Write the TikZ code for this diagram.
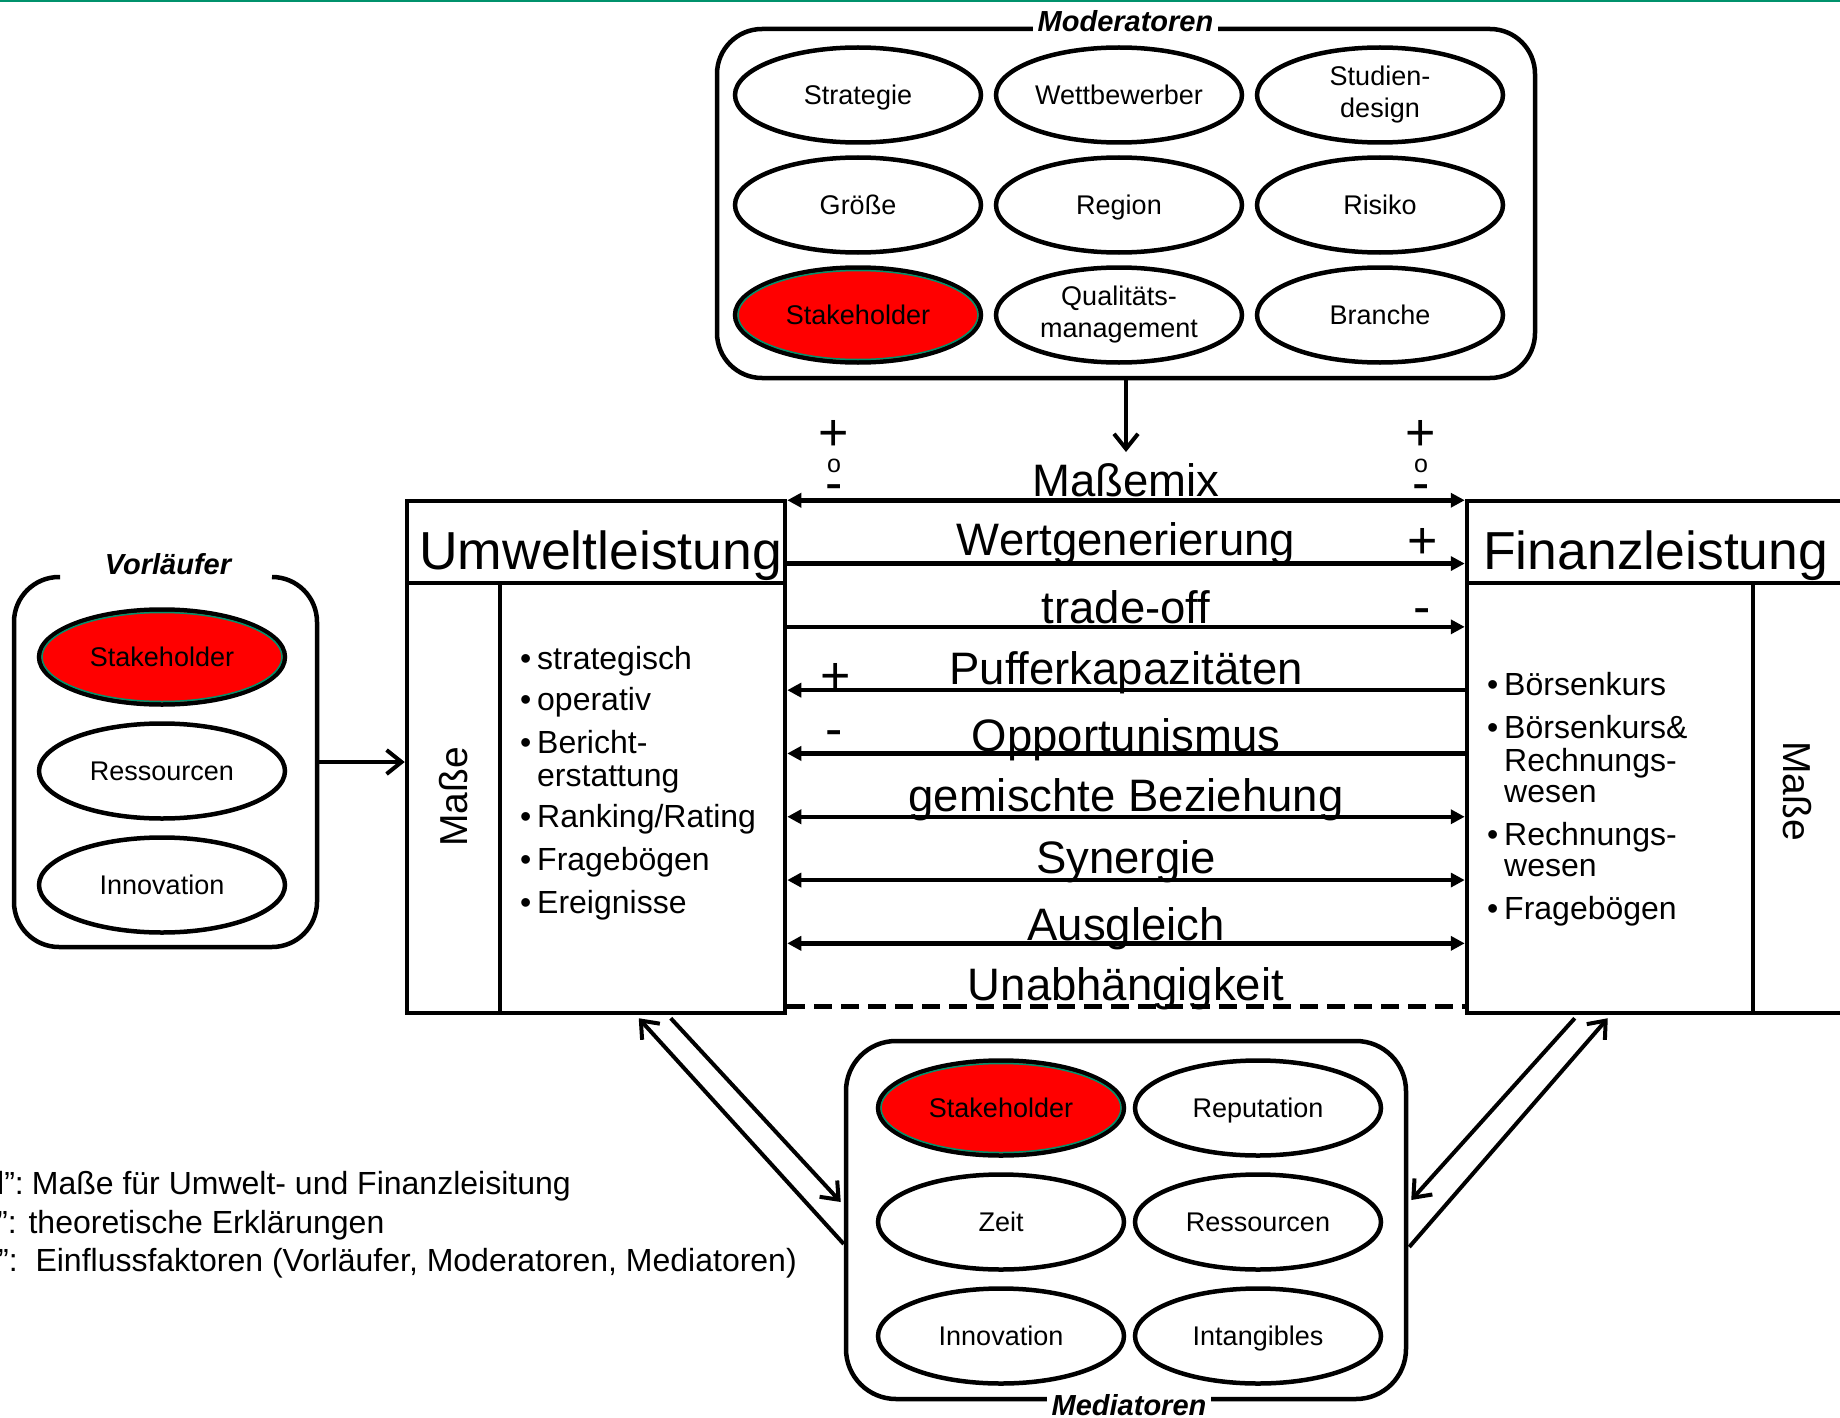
\documentclass[tikz,border=0pt]{standalone}
\usepackage{fontspec}
\setmainfont{Liberation Sans}
\usetikzlibrary{shapes.geometric,arrows.meta}
\definecolor{tealgreen}{RGB}{0,146,108}
\newcommand\setfs[2]{\fontsize{#1}{#2}\selectfont}
\tikzset{
  ell/.style={ellipse, draw, line width=4.5pt, minimum width=246pt, minimum height=95pt,
    inner sep=0pt, font=\setfs{27}{32}, align=center},
  ellone/.style={ell, text height=19.4pt, text depth=0pt},
  stk/.style={ellone, fill=red},
  grp/.style={draw, line width=4.5pt, inner sep=0pt},
  glab/.style={font=\setfs{29}{34}\bfseries\itshape, inner xsep=5pt, inner ysep=2pt},
  hl/.style={line width=4.5pt},
  lab/.style={font=\setfs{45.5}{54}, inner sep=0pt, anchor=base, pos=.5},
  sgn/.style={font=\setfs{52}{60}, inner sep=0pt, anchor=base},
  smallo/.style={font=\setfs{25}{30}, inner sep=0pt, anchor=base},
  bul/.style={font=\setfs{32}{38}, inner sep=0pt, anchor=base west},
  ttl/.style={font=\setfs{53.5}{62}, inner sep=0pt, anchor=base west},
  masse/.style={font=\setfs{39}{46}, inner sep=0pt},
  barb/.style={line width=4pt, -{Straight Barb[length=15pt 0,width=24pt 0]}},
  foot/.style={font=\setfs{32}{38}, inner sep=0pt, anchor=base west},
}
\begin{document}
\begin{tikzpicture}[x=1pt,y=-1pt,>={Triangle[length=14pt 0,width=14pt 0]}]
\useasboundingbox (0,0) rectangle (1840,1418);
\clip (0,0) rectangle (1840,1418);
\fill[white] (0,0) rectangle (1840,1418);
\draw[tealgreen, line width=3pt] (0,1) -- (1840,1);

% ---------- Moderatoren ----------
\node[grp, rounded corners=45pt, minimum width=818pt, minimum height=349pt] (MB) at (1126,203.5) {};
\node[glab, fill=white, anchor=base] (ML) at (1125.5,32) {Moderatoren};
\node[ellone] (m1) at (858,95) {Strategie};
\node[ellone] (m2) at (1119,95) {Wettbewerber};
\node[ell] (m3) at (1380,95) {Studien-\\design};
\node[ellone] (m4) at (858,205) {Größe};
\node[ellone] (m5) at (1119,205) {Region};
\node[ellone] (m6) at (1380,205) {Risiko};
\node[stk] (m7) at (858,315) {Stakeholder};
\draw[tealgreen, line width=1.5pt] (m7.center) ellipse [x radius=120pt, y radius=44.5pt];
\node[ell] (m8) at (1119,315) {Qualitäts-\\management};
\node[ellone] (m9) at (1380,315) {Branche};
\coordinate (mtip) at (1126,452);
\draw[barb] (MB.south) -- (mtip);

% ---------- Vorläufer ----------
\draw[hl, rounded corners=45pt] (60,577) -- (14,577) -- (14,947) -- (317,947) -- (317,577) -- (272,577);
\node[glab, anchor=base] (VL) at (168,574) {Vorläufer};
\node[stk] (v1) at (162,657) {Stakeholder};
\draw[tealgreen, line width=1.5pt] (v1.center) ellipse [x radius=120pt, y radius=44.5pt];
\node[ellone] (v2) at (162,771) {Ressourcen};
\node[ellone] (v3) at (162,885) {Innovation};

% ---------- Main boxes ----------
\node[grp, minimum width=378pt, minimum height=512pt] (U) at (596,757) {};
\node[grp, minimum width=433pt, minimum height=512pt] (F) at (1683.5,757) {};
\draw[hl] (407,583) -- (785,583);
\draw[hl] (500,583) -- (500,1013);
\draw[hl] (1467,583) -- (1900,583);
\draw[hl] (1753,583) -- (1753,1013);
\node[ttl] (UT) at (419,569) {Umweltleistung};
\node[ttl] (FT) at (1483,569) {Finanzleistung};
\node[masse, rotate=90] (UM) at (454,797) {Maße};
\node[masse, rotate=-90] (FM) at (1797,791) {Maße};

\coordinate (vr) at (317,762);
\draw[barb] (vr) -- (vr -| U.west);

% left list
\node[bul] (ub1) at (520,669) {•};
\node[bul] (ut1) at (537,669) {strategisch};
\node[bul] (ub2) at (520,710) {•};
\node[bul] (ut2) at (537,710) {operativ};
\node[bul] (ub3) at (520,753) {•};
\node[bul] (ut3) at (537,753) {Bericht-};
\node[bul] (ut3b) at (537,786) {erstattung};
\node[bul] (ub4) at (520,827) {•};
\node[bul] (ut4) at (537,827) {Ranking/Rating};
\node[bul] (ub5) at (520,870) {•};
\node[bul] (ut5) at (537,870) {Fragebögen};
\node[bul] (ub6) at (520,913) {•};
\node[bul] (ut6) at (537,913) {Ereignisse};

% right list
\node[bul] (fb1) at (1487,695) {•};
\node[bul] (ft1) at (1504,695) {Börsenkurs};
\node[bul] (fb2) at (1487,738) {•};
\node[bul] (ft2) at (1504,738) {Börsenkurs\&};
\node[bul] (ft2b) at (1504,771) {Rechnungs-};
\node[bul] (ft2c) at (1504,802) {wesen};
\node[bul] (fb3) at (1487,845) {•};
\node[bul] (ft3) at (1504,845) {Rechnungs-};
\node[bul] (ft3b) at (1504,876) {wesen};
\node[bul] (fb4) at (1487,919) {•};
\node[bul] (ft4) at (1504,919) {Fragebögen};

% ---------- relationship arrows ----------
\foreach \i in {0,...,8} {
  \path (U.north east) ++(0,1.5+63.3*\i) coordinate (a\i);
  \path (F.north west) ++(0,1.5+63.3*\i) coordinate (b\i);
}
\draw[hl,<->] (a0) -- (b0) node[lab, yshift=4pt] (t0) {Maßemix};
\draw[hl,->] (a1) -- (b1) node[lab, yshift=8pt] (t1) {Wertgenerierung};
\draw[hl,->] (a2) -- (b2) node[lab, yshift=3pt] (t2) {trade-off};
\draw[hl,<-] (a3) -- (b3) node[lab, yshift=6pt] (t3) {Pufferkapazitäten};
\draw[hl,<-] (a4) -- (b4) node[lab, yshift=2pt] (t4) {Opportunismus};
\draw[hl,<->] (a5) -- (b5) node[lab, yshift=5pt] (t5) {gemischte Beziehung};
\draw[hl,<->] (a6) -- (b6) node[lab, yshift=7pt] (t6) {Synergie};
\draw[hl,<->] (a7) -- (b7) node[lab, yshift=3pt] (t7) {Ausgleich};
\draw[hl, dash pattern=on 18pt off 9pt] (a8) -- (b8) node[lab, yshift=6pt] (t8) {Unabhängigkeit};

% signs
\node[sgn] (s1) at (834,450.5) {+};
\node[smallo] (s2) at (834,472.5) {o};
\node[sgn] (s3) at (834,500) {-};
\node[sgn] (s4) at (1421,450.5) {+};
\node[smallo] (s5) at (1421,472.5) {o};
\node[sgn] (s6) at (1421,500) {-};
\node[sgn] (s7) at (1423,558.5) {+};
\node[sgn] (s8) at (1422,624) {-};
\node[sgn] (s9) at (836,693.5) {+};
\node[sgn] (s10) at (834,746) {-};

% ---------- Mediatoren ----------
\node[grp, rounded corners=50pt, minimum width=560pt, minimum height=358pt] (D) at (1126,1220) {};
\node[glab, fill=white, anchor=base] (DL) at (1129,1415) {Mediatoren};
\node[stk] (d1) at (1001,1108) {Stakeholder};
\draw[tealgreen, line width=1.5pt] (d1.center) ellipse [x radius=120pt, y radius=44.5pt];
\node[ellone] (d2) at (1258,1108) {Reputation};
\node[ellone] (d3) at (1001,1222) {Zeit};
\node[ellone] (d4) at (1258,1222) {Ressourcen};
\node[ellone] (d5) at (1001,1336) {Innovation};
\node[ellone] (d6) at (1258,1336) {Intangibles};

% diagonal arrows
\path (U.south west) ++(234,3) coordinate (ul1);
\path (U.south west) ++(266,3) coordinate (ul2);
\path (D.west) ++(0,24) coordinate (dl1);
\path (D.west) ++(-3,-18) coordinate (dl2);
\path (F.south west) ++(110,3) coordinate (fr1);
\path (F.south west) ++(143,3) coordinate (fr2);
\path (D.east) ++(3,-20) coordinate (dr1);
\path (D.east) ++(1,27) coordinate (dr2);
\draw[barb] (dl1) -- (ul1);
\draw[barb] (ul2) -- (dl2);
\draw[barb] (fr1) -- (dr1);
\draw[barb] (dr2) -- (fr2);

% ---------- footnotes ----------
\node[foot] (n1) at (-3,1194) {l”:\hspace{8pt}Maße für Umwelt- und Finanzleisitung};
\node[foot] (n2) at (-3,1233) {”: theoretische Erklärungen};
\node[foot] (n3) at (-2,1271) {”:\ \ Einflussfaktoren (Vorläufer, Moderatoren, Mediatoren)};
\end{tikzpicture}
\end{document}
